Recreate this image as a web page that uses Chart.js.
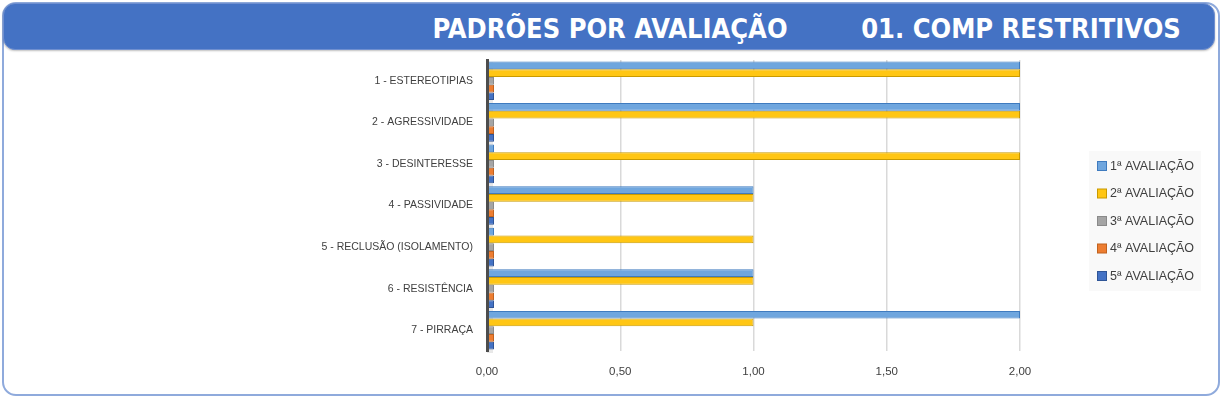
<!DOCTYPE html>
<html><head><meta charset="utf-8">
<script src="https://cdn.jsdelivr.net/npm/chart.js@4.4.1/dist/chart.umd.min.js"></script>
<style>
html,body{margin:0;padding:0;background:#fff;}
#wrap{position:relative;width:1223px;height:399px;overflow:hidden;background:#fff;}
#frame{position:absolute;left:2px;top:2px;width:1214px;height:390px;border:2px solid #8FAADC;border-radius:14px;}
#titlebar{position:absolute;left:3px;top:3px;width:1212px;height:47px;background:#4472C4;border-radius:12px;box-shadow:0 1px 2px rgba(0,0,0,0.25);border:1px solid #6F8FD0;box-sizing:border-box;}
.t{position:absolute;top:13px;color:#fff;font:bold 27px 'Liberation Sans Narrow','DejaVu Sans Condensed',sans-serif;transform:translateX(-50%);white-space:nowrap;line-height:32px;}
#c{position:absolute;left:0;top:0;}
</style></head>
<body><div id="wrap">
<div id="frame"></div>
<div id="titlebar"></div>
<div class="t" style="left:610px">PADRÕES POR AVALIAÇÃO</div>
<div class="t" style="left:1021px">01. COMP RESTRITIVOS</div>
<canvas id="c" width="1223" height="399"></canvas>
</div>
<script>
const categories = ['1 - ESTEREOTIPIAS','2 - AGRESSIVIDADE','3 - DESINTERESSE','4 - PASSIVIDADE','5 - RECLUSÃO (ISOLAMENTO)','6 - RESISTÊNCIA','7 - PIRRAÇA'];
const seriesNames = ['1ª AVALIAÇÃO','2ª AVALIAÇÃO','3ª AVALIAÇÃO','4ª AVALIAÇÃO','5ª AVALIAÇÃO'];
const aval1 = [2,2,0,1,0,1,2];
const aval2 = [2,2,2,1,1,1,1];
const aval3 = [0,0,0,0,0,0,0];
const aval4 = [0,0,0,0,0,0,0];
const aval5 = [0,0,0,0,0,0,0];
const xTickLabels = ['0,00','0,50','1,00','1,50','2,00'];

const fills = ['#6FA6DE','#FFC614','#A5A5A5','#ED7D31','#4472C4'];
const borders = ['#3F7BBF','#C99A00','#8A8A8A','#C0621F','#2F5597'];
const seriesData = [aval1,aval2,aval3,aval4,aval5];

const legendPlugin = {
  id:'sideLegend',
  afterDraw(chart){
    const ctx = chart.ctx;
    ctx.save();
    ctx.fillStyle = '#F9F9F9';
    ctx.fillRect(1089,151,112,140);
    ctx.font = '12.5px "Liberation Sans", sans-serif';
    ctx.textBaseline = 'middle';
    chart.data.datasets.forEach((ds,i)=>{
      const y = 166 + i*27.5;
      ctx.fillStyle = ds.backgroundColor;
      ctx.strokeStyle = ds.borderColor;
      ctx.lineWidth = 1;
      ctx.fillRect(1097.5,y-4.5,9,9);
      ctx.strokeRect(1097.5,y-4.5,9,9);
      ctx.fillStyle = '#404040';
      ctx.fillText(ds.label,1110,y+0.5);
    });
    ctx.restore();
  }
};

const wallPlugin = {
  id:'wall',
  beforeDatasetsDraw(chart){
    const a = chart.chartArea, ctx = chart.ctx;
    ctx.save();
    ctx.fillStyle = 'rgba(190,190,190,0.35)';
    ctx.fillRect(a.left, a.top+2, 6, a.bottom-a.top);
    ctx.restore();
  }
};

new Chart(document.getElementById('c'),{
  type:'bar',
  data:{
    labels:categories,
    datasets:seriesNames.map((n,i)=>({
      label:n,
      data:seriesData[i],
      backgroundColor:fills[i],
      borderColor:borders[i],
      borderWidth:1,
      minBarLength:7,
      categoryPercentage:0.93,
      barPercentage:1.0
    }))
  },
  options:{
    indexAxis:'y',
    responsive:false,
    animation:false,
    layout:{padding:{left:0,right:203,top:60,bottom:0}},
    plugins:{legend:{display:false},tooltip:{enabled:false}},
    scales:{
      x:{
        min:0,max:2,
        afterBuildTicks(scale){ scale.ticks = [0,0.5,1,1.5,2].map(v=>({value:v})); },
        afterFit(scale){ scale.height = 399-351; },
        grid:{color:'#D9D9D9',lineWidth:1.5,drawTicks:false},
        border:{display:false},
        ticks:{padding:14,color:'#404040',font:{family:'Liberation Sans',size:11.5},
          callback:(v,i)=>xTickLabels[i]}
      },
      y:{
        afterFit(scale){ scale.width = 487; },
        grid:{display:false},
        border:{display:true,color:'#4D4D4D',width:3,z:1},
        ticks:{padding:6,color:'#404040',font:{family:'Liberation Sans',size:10.5}}
      }
    }
  },
  plugins:[legendPlugin, wallPlugin]
});
</script>
</body></html>
